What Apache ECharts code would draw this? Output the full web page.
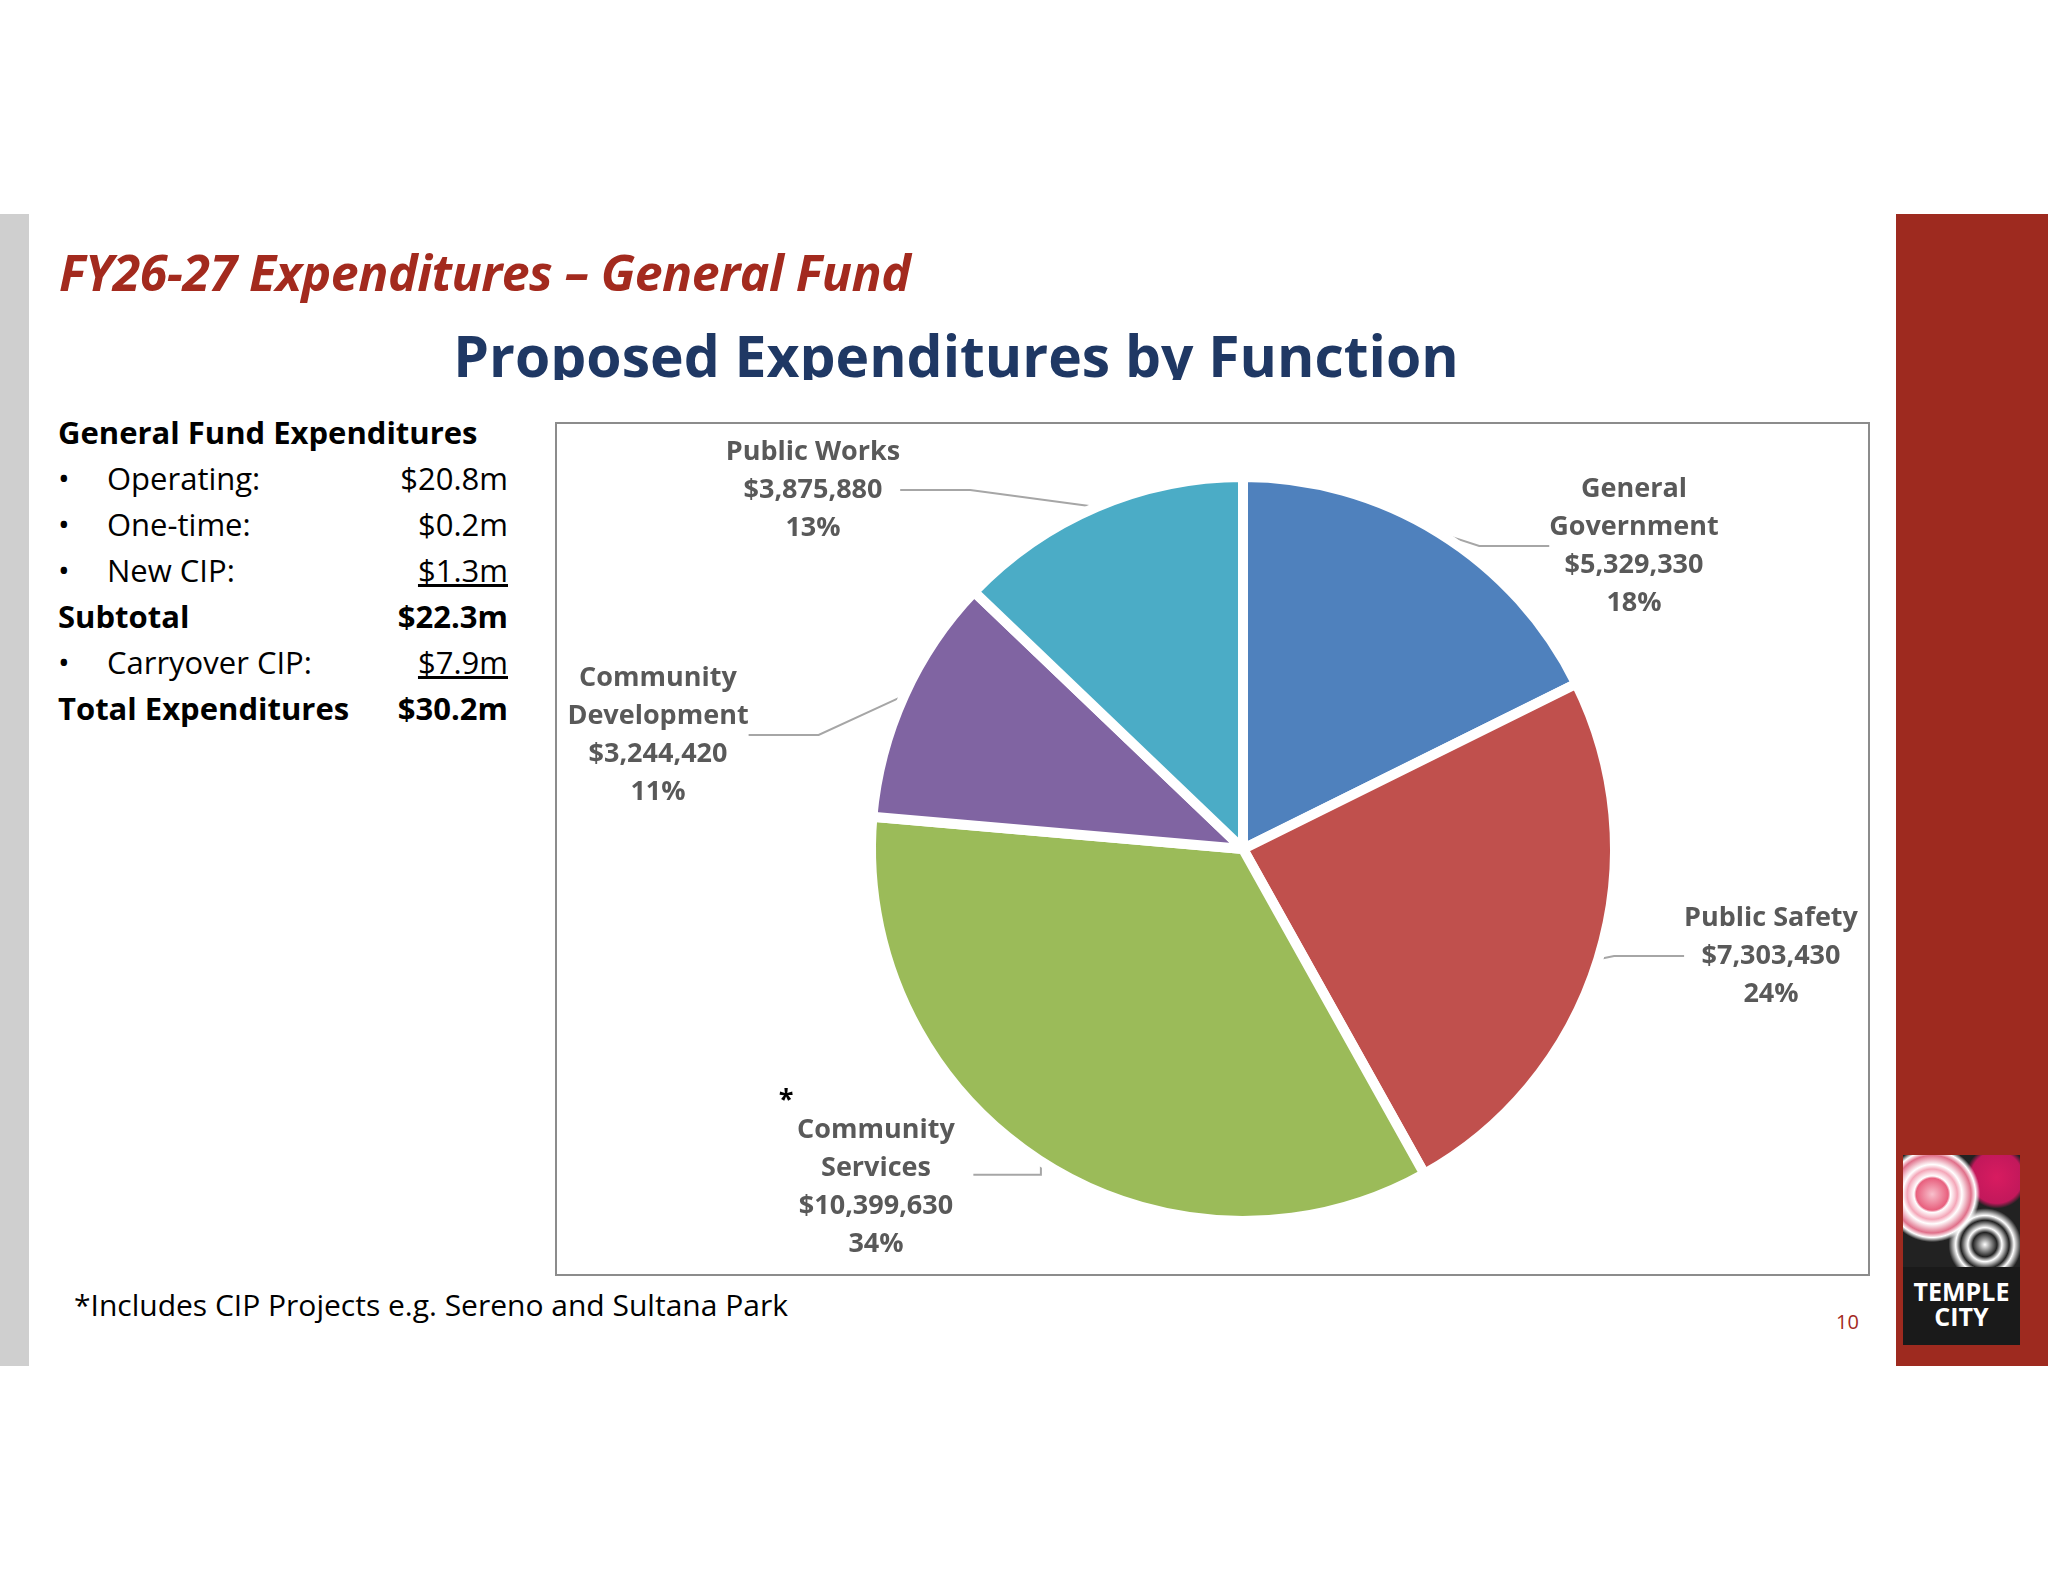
<!DOCTYPE html>
<html><head><meta charset="utf-8">
<script src="https://cdn.jsdelivr.net/npm/echarts@6/dist/echarts.min.js"></script>
<style>
body{margin:0;width:2048px;height:1582px;background:#fff;position:relative;font-family:"Open Sans",sans-serif;overflow:hidden}
.abs{position:absolute}
#lt div{height:46px;line-height:46px;font-size:31px;color:#000;position:relative}
#lt .b{display:inline-block;width:49px}
#lt .v{position:absolute;left:290px;width:160px;text-align:right}
</style></head><body>
<div class="abs" style="left:0;top:214px;width:29px;height:1152px;background:#cfcfcf"></div>
<div class="abs" style="left:1896px;top:214px;width:152px;height:1152px;background:#9e2a1f"></div>
<div class="abs" style="left:1903px;top:1155px;width:117px;height:190px;background:#1a1a1a;overflow:hidden">
  <div style="height:112px;background:radial-gradient(circle at 25% 35%,#f8c0cc 0,#e8607e 14%,#fff 16%,#f4a6b8 22%,#fff 26%,#e0708a 34%,#fff 38%,transparent 42%),radial-gradient(circle at 80% 20%,#d81b60 0,#c2185b 20%,transparent 24%),radial-gradient(circle at 70% 80%,#fff 0,#222 10%,#fff 14%,#222 20%,#fff 24%,#222 30%);background-color:#fff"></div>
  <div style="color:#fff;font:bold 25px 'Open Sans',sans-serif;text-align:center;line-height:25px;margin-top:12px">TEMPLE<br>CITY</div>
</div>
<div class="abs" style="left:59px;top:238px;font:italic bold 50px 'Open Sans',sans-serif;color:#a32a1e;letter-spacing:-0.5px">FY26-27 Expenditures – General Fund</div>
<div class="abs" style="left:0;top:318px;width:1912px;height:62px;overflow:hidden;text-align:center;font:bold 57px 'Open Sans',sans-serif;color:#1f3864;line-height:74px">Proposed Expenditures by Function</div>
<div id="lt" class="abs" style="left:58px;top:409px;width:460px">
  <div><b>General Fund Expenditures</b></div>
  <div><span class="b">•</span>Operating:<span class="v">$20.8m</span></div>
  <div><span class="b">•</span>One-time:<span class="v">$0.2m</span></div>
  <div><span class="b">•</span>New CIP:<span class="v"><u>$1.3m</u></span></div>
  <div><b>Subtotal</b><span class="v"><b>$22.3m</b></span></div>
  <div><span class="b">•</span>Carryover CIP:<span class="v"><u>$7.9m</u></span></div>
  <div><b>Total Expenditures</b><span class="v"><b>$30.2m</b></span></div>
</div>
<div class="abs" style="left:555px;top:422px;width:1311px;height:850px;border:2px solid #8c8c8c"></div>
<div id="chart" class="abs" style="left:557px;top:424px;width:1311px;height:850px"></div>
<div class="abs" style="left:74px;top:1284px;font-size:30px;color:#000">*Includes CIP Projects e.g. Sereno and Sultana Park</div>
<div class="abs" style="left:1836px;top:1308px;font-size:20px;color:#a32a1e">10</div>
<script>
const categories = ['General\nGovernment', 'Public Safety', 'Community\nServices', 'Community\nDevelopment', 'Public Works']
const amounts = [5329330, 7303430, 10399630, 3244420, 3875880]
const percents = ['18%', '24%', '34%', '11%', '13%']
const colors = ['#4f81bd', '#c0504d', '#9bbb59', '#8064a2', '#4bacc6']

// label centres inside the chart box, same order as categories
const labelAt = [[1077, 122], [1214, 532], [319, 752], [101, 311], [256, 66]]

const chart = echarts.init(document.getElementById('chart'))
chart.setOption({
  animation: false,
  series: [{
    type: 'pie',
    center: [686, 425],
    radius: 372,
    startAngle: 90,
    clockwise: true,
    itemStyle: { borderColor: '#fff', borderWidth: 10 },
    label: {
      color: '#595959', fontSize: 27, fontWeight: 'bold', lineHeight: 38, align: 'center',
      fontFamily: 'Open Sans, sans-serif', overflow: 'none',
      rich: { star: { color: '#000', fontSize: 27, fontWeight: 'bold', lineHeight: 22, padding: [0, 180, 0, 0] } },
      formatter: p => (p.dataIndex === 2 ? '{star|*}\n' : '') + p.name + '\n$' + p.value.toLocaleString('en-US') + '\n' + percents[p.dataIndex]
    },
    labelLine: { length: 40, length2: 70, lineStyle: { color: '#a6a6a6', width: 2 } },
    labelLayout: p => ({ x: labelAt[p.dataIndex][0], y: labelAt[p.dataIndex][1], align: 'center', verticalAlign: 'middle' }),
    data: categories.map((c, i) => ({ name: c, value: amounts[i], itemStyle: { color: colors[i] } }))
  }]
})
</script>
</body></html>
